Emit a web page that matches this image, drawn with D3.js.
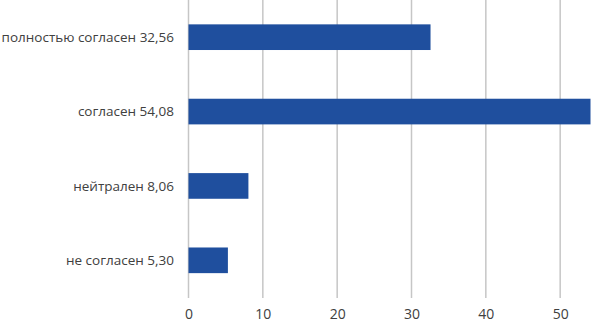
<!DOCTYPE html>
<html>
<head>
<meta charset="utf-8">
<script src="https://cdn.jsdelivr.net/npm/d3@7"></script>
<style>
  body { margin: 0; background: #fff; }
  svg { display: block; }
  text { font-family: "Open Sans", "Noto Sans", sans-serif; fill: #404040; }
</style>
</head>
<body>
<div id="chart"></div>
<script>
// chart data
const categories = ['полностью согласен', 'согласен', 'нейтрален', 'не согласен'];
const values = [32.56, 54.08, 8.06, 5.3];
const xTicks = [0, 10, 20, 30, 40, 50];

const width = 592;
const height = 324;
const margin = { top: 0, right: 0, bottom: 26, left: 188.5 };

const svg = d3
	.select('#chart')
	.append('svg')
	.attr('width', width)
	.attr('height', height);

const x = d3
	.scaleLinear()
	.domain([0, 54.08])
	.range([margin.left, 590.5]);

const y = d3
	.scaleBand()
	.domain(categories)
	.range([margin.top, height - margin.bottom - 0.5])
	.paddingInner(0.655)
	.paddingOuter(0.3275);

// vertical grid lines
svg
	.append('g')
	.selectAll('line')
	.data(xTicks)
	.join('line')
	.attr('x1', (d) => x(d))
	.attr('x2', (d) => x(d))
	.attr('y1', 0)
	.attr('y2', height - margin.bottom)
	.attr('stroke', '#c6c6c6')
	.attr('stroke-width', 1.5);

// bars
svg
	.append('g')
	.selectAll('rect')
	.data(values)
	.join('rect')
	.attr('x', x(0))
	.attr('y', (d, i) => y(categories[i]))
	.attr('width', (d) => x(d) - x(0))
	.attr('height', y.bandwidth())
	.attr('fill', '#1f4f9e');

// category labels with value
svg
	.append('g')
	.selectAll('text')
	.data(values)
	.join('text')
	.attr('x', 174)
	.attr('y', (d, i) => y(categories[i]) + y.bandwidth() / 2)
	.attr('dy', '0.35em')
	.attr('text-anchor', 'end')
	.style('font-size', '13.5px')
	.text((d, i) => categories[i] + ' ' + d.toFixed(2).replace('.', ','));

// x axis labels
const xAxis = d3.axisBottom(x).tickValues(xTicks).tickSize(0).tickPadding(0);
const xAxisG = svg
	.append('g')
	.attr('transform', `translate(0,${height - 15})`)
	.call(xAxis);
xAxisG.select('.domain').remove();
xAxisG
	.selectAll('text')
	.style('font-size', '14px')
	.style('font-family', '"Open Sans", "Noto Sans", sans-serif')
	.attr('fill', '#404040');
</script>
</body>
</html>
